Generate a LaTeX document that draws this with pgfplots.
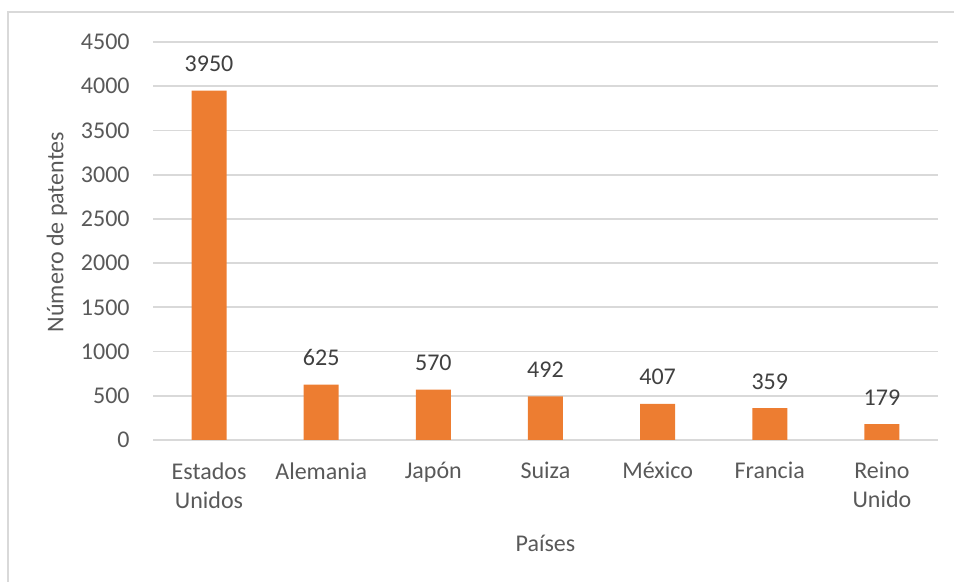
\documentclass[border=0pt]{standalone}
\usepackage{fontspec}
\setmainfont{Carlito}
\usepackage{pgfplots}
\pgfplotsset{compat=1.18}

\definecolor{barorange}{HTML}{ED7D31}
\definecolor{textgray}{HTML}{595959}
\definecolor{labelgray}{HTML}{404040}
\definecolor{gridgray}{HTML}{D9D9D9}

\newcommand{\chartfont}{\fontsize{12}{14.5}\selectfont}

\begin{document}
\begin{tikzpicture}[x=0.5pt,y=0.5pt]
  % canvas in pixel units (1px = 0.5pt)
  \path[use as bounding box] (0,0) rectangle (954,582);
  \draw[gridgray, line width=1pt] (8,0) -- (8,570) -- (954,570);

  \begin{axis}[
    at={(76.5pt,71pt)}, anchor=south west,
    width=392.5pt, height=199pt, scale only axis,
    xmin=-0.5, xmax=6.5, ymin=0, ymax=4500,
    ytick={0,500,...,4500},
    xtick={0,...,6},
    xticklabels={{Estados\\Unidos},Alemania,Japón,Suiza,México,Francia,{Reino\\Unido}},
    ymajorgrids,
    grid style={gridgray, line width=0.9pt},
    axis line style={draw=none},
    major tick length=0pt,
    /pgf/number format/1000 sep={},
    /pgf/number format/assume math mode=true,
    ticklabel style={font=\chartfont, text=textgray},
    yticklabel style={anchor=east, inner sep=0pt, xshift=-11.5pt},
    xticklabel style={anchor=north, inner sep=0pt, yshift=-11pt, align=center},
    clip=false,
  ]
    \addplot[ybar, bar width=17.5pt, fill=barorange, draw=none,
      nodes near coords,
      nodes near coords style={font=\chartfont, text=labelgray,
        anchor=base, inner sep=0pt, yshift=9.5pt}]
      coordinates {(0,3950) (1,625) (2,570) (3,492) (4,407) (5,359) (6,179)};
  \end{axis}

  \node[font=\chartfont, text=textgray] at (545.5,39) {Países};
  \node[font=\chartfont, text=textgray, rotate=90] at (57,350) {Número de patentes};
\end{tikzpicture}
\end{document}
